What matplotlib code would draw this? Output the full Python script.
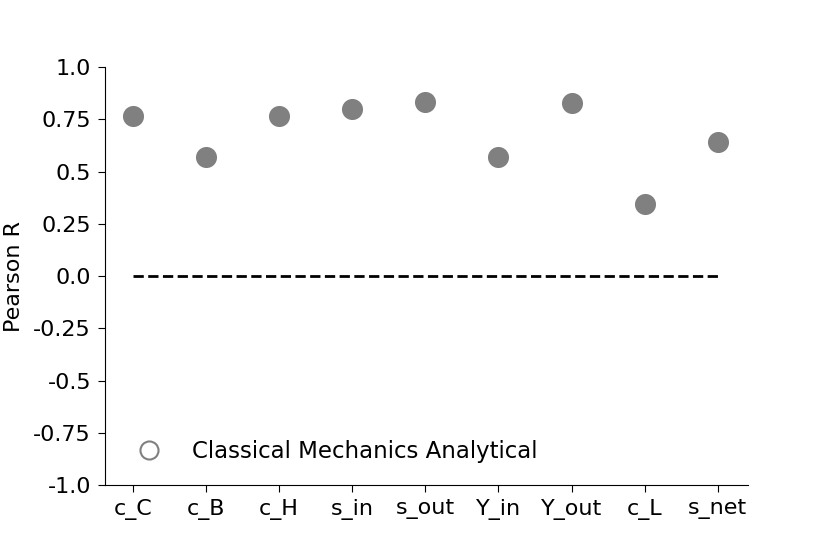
import matplotlib.pyplot as plt
from matplotlib.lines import Line2D

features = ["c_C", "c_B", "c_H", "s_in", "s_out", "Y_in", "Y_out", "c_L", "s_net"]
pearson_r = [0.764, 0.568, 0.767, 0.799, 0.831, 0.571, 0.830, 0.346, 0.643]
ytick_vals = [1.0, 0.75, 0.5, 0.25, 0.0, -0.25, -0.5, -0.75, -1.0]
ytick_labels = ["1.0", "0.75", "0.5", "0.25", "0.0", "-0.25", "-0.5", "-0.75", "-1.0"]
legend_label = "Classical Mechanics Analytical"

fig = plt.figure(figsize=(8.3, 5.54), dpi=100)
ax = fig.add_axes([0.1265, 0.1245, 0.7745, 0.7545])

x = list(range(len(features)))
ax.scatter(x, pearson_r, s=230, color="#808080", linewidths=0, zorder=3)
ax.plot([x[0], x[-1]], [0, 0], linestyle="--", color="black", linewidth=2)

ax.set_xlim(-0.38, len(features) - 1 + 0.41)
ax.set_ylim(-1.0, 1.0)
ax.set_xticks(x)
ax.set_xticklabels(features, fontsize=16)
ax.set_yticks(ytick_vals)
ax.set_yticklabels(ytick_labels, fontsize=16)
ax.set_ylabel("Pearson R", fontsize=16, labelpad=7)
ax.tick_params(length=5, pad=5)
ax.spines["top"].set_visible(False)
ax.spines["right"].set_visible(False)

handle = Line2D([], [], linestyle="none", marker="o", markersize=13,
                markerfacecolor="none", markeredgecolor="#808080", markeredgewidth=1.5)
ax.legend([handle], [legend_label], loc="lower left", frameon=False, fontsize=16.5,
          bbox_to_anchor=(0.0, 0.004), handletextpad=0.9)

fig.savefig("out.png", dpi=100)
